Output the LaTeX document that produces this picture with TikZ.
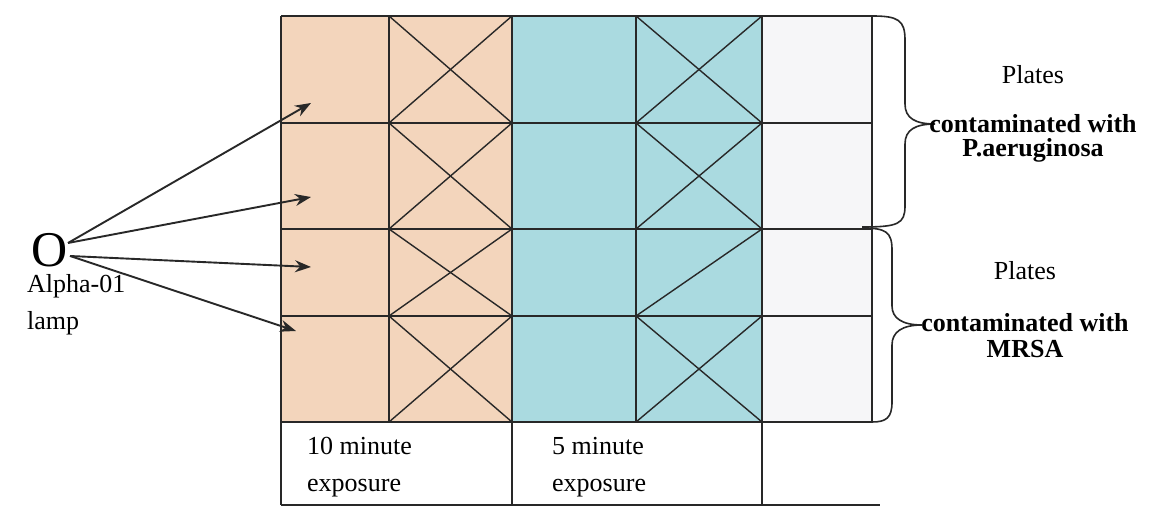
\documentclass[tikz,border=0pt]{standalone}
\usepackage{fontspec}
\setmainfont{Liberation Serif}
\usetikzlibrary{arrows.meta}
\definecolor{peach}{RGB}{243,213,188}
\definecolor{tealc}{RGB}{170,218,224}
\definecolor{pale}{RGB}{246,246,248}
\definecolor{ink}{RGB}{40,40,40}
\tikzset{
  gridline/.style={draw=ink, line width=1.5pt},
  crossline/.style={draw=ink, line width=1.4pt},
  brace/.style={draw=ink, line width=1.6pt},
  ray/.style={draw=ink, line width=1.9pt, -{Stealth[length=16pt,width=12pt]}},
  txt/.style={font=\fontsize{26}{30}\selectfont, inner sep=0pt, text=black},
  btxt/.style={font=\fontsize{26}{30}\selectfont\bfseries, inner sep=0pt, text=black}
}
\begin{document}
\begin{tikzpicture}[x=1pt,y=-1pt]
\useasboundingbox (0,0) rectangle (1157,510);
\fill[white] (0,0) rectangle (1157,510);
% fills
\fill[peach] (281,16) rectangle (512,422);
\fill[tealc] (512,16) rectangle (762,422);
\fill[pale] (762,16) rectangle (872,422);
% grid
\foreach \y in {16,123,229,316,422} { \draw[gridline] (281,\y) -- (872,\y); }
\draw[gridline] (281,505) -- (880,505);
\foreach \x in {281,512,762} { \draw[gridline] (\x,16) -- (\x,505); }
\foreach \x in {389,636,872} { \draw[gridline] (\x,16) -- (\x,422); }
% crosses
\foreach \a/\b in {16/123,123/229,229/316,316/422} {
  \draw[crossline] (389,\a) -- (512,\b);
  \draw[crossline] (389,\b) -- (512,\a);
}
\foreach \a/\b in {16/123,123/229,316/422} {
  \draw[crossline] (636,\a) -- (762,\b);
  \draw[crossline] (636,\b) -- (762,\a);
}
\draw[crossline] (636,316) -- (762,229);
% braces
\draw[brace] (872,16) .. controls (898,16) and (905,20) .. (905,40) -- (905,104)
  .. controls (905,118) and (915,124) .. (935,124)
  .. controls (915,124) and (905,130) .. (905,144) -- (905,206)
  .. controls (905,224) and (898,227) .. (862,227);
\draw[brace] (862,228) .. controls (886,228) and (892,232) .. (892,250) -- (892,306)
  .. controls (892,318) and (902,325) .. (922,325)
  .. controls (902,325) and (892,332) .. (892,345) -- (892,402)
  .. controls (892,418) and (886,422) .. (872,422);
% lamp
\node[inner sep=0pt, font=\fontsize{50}{50}\selectfont, anchor=base, text height=34pt, text depth=0pt] (lamp) at (50,267) {O};
\coordinate (s1) at (68,243);
\coordinate (s2) at (70,256);
\coordinate (t1) at (311,103);
\coordinate (t2) at (311,197);
\coordinate (t3) at (311,267);
\coordinate (t4) at (296,331);
\draw[ray] (s1) -- (t1);
\draw[ray] (s1) -- (t2);
\draw[ray] (s2) -- (t3);
\draw[ray] (s2) -- (t4);
\node[txt, anchor=base west, text height=18pt] (alpha) at (27,293) {Alpha-01};
\node[txt, anchor=base west] (lampt) at (27,330) {lamp};
% bottom labels
\node[txt, anchor=base west] (ten1) at (307,455) {10 minute};
\node[txt, anchor=base west] (ten2) at (307,491) {exposure};
\node[txt, anchor=base west] (five1) at (552,455) {5 minute};
\node[txt, anchor=base west] (five2) at (552,491) {exposure};
% right labels
\node[txt, anchor=base] (pl1) at (1033,84) {Plates};
\node[btxt, anchor=base] (cw1) at (1033,133) {contaminated with};
\node[btxt, anchor=base] (pa) at (1033,157) {P.aeruginosa};
\node[txt, anchor=base] (pl2) at (1025,280) {Plates};
\node[btxt, anchor=base] (cw2) at (1025,332) {contaminated with};
\node[btxt, anchor=base] (mr) at (1025,358) {MRSA};
\end{tikzpicture}
\end{document}
